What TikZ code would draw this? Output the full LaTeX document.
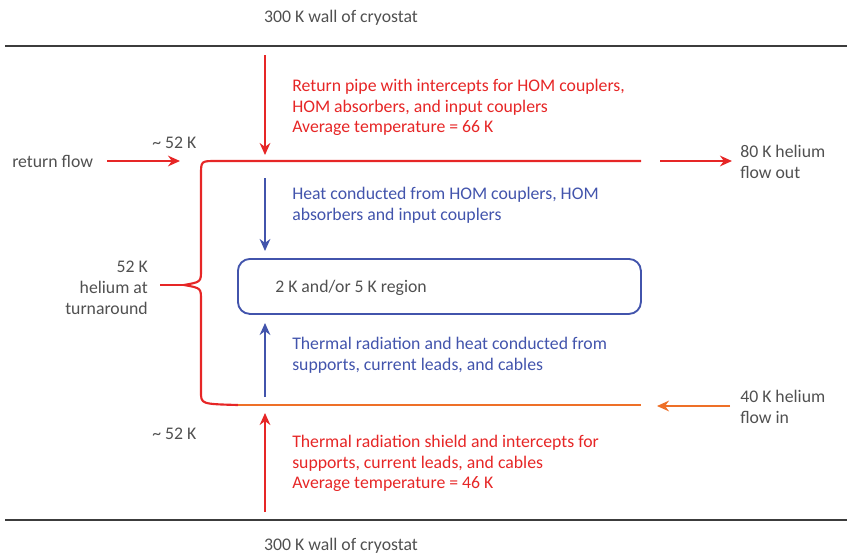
\documentclass[tikz,border=0pt]{standalone}
\usepackage{fontspec}
\setmainfont{Carlito}
\usetikzlibrary{arrows.meta}
\definecolor{cred}{RGB}{230,38,38}
\definecolor{cblue}{RGB}{66,84,172}
\definecolor{corange}{RGB}{238,112,40}
\definecolor{cgray}{RGB}{80,80,80}
\definecolor{cwall}{RGB}{60,60,60}
\begin{document}
\begin{tikzpicture}[x=0.75pt,y=-0.75pt,
  txt/.style={inner sep=0pt,font=\fontsize{13.3}{15.6}\selectfont,align=left},
  redarr/.style={draw=cred,line width=1.6pt,-{Stealth[length=9pt,width=8pt]}},
  bluearr/.style={draw=cblue,line width=1.4pt,-{Stealth[length=9pt,width=8pt]}},
  orangearr/.style={draw=corange,line width=1.6pt,-{Stealth[length=9pt,width=8pt]}},
  wall/.style={draw=cwall,line width=2.2pt}]
\useasboundingbox (0,0) rectangle (847,554);
% walls
\coordinate (wt1) at (5,46); \coordinate (wt2) at (847,46);
\coordinate (wb1) at (5,520); \coordinate (wb2) at (847,520);
\draw[wall] (wt1) -- (wt2);
\draw[wall] (wb1) -- (wb2);
\node[txt,text=cgray] (walltop) at (341,18) {300 K wall of cryostat};
\node[txt,text=cgray] (wallbot) at (341,546) {300 K wall of cryostat};
% top red arrow
\coordinate (ra1) at (265,55); \coordinate (ra2) at (265,155);
\draw[redarr] (ra1) -- (ra2);
\node[txt,text=cred,anchor=west] (rettext) at (292,107.5) {Return pipe with intercepts for HOM couplers,\\HOM absorbers, and input couplers\\Average temperature = 66 K};
% pipe and brace
\coordinate (ptopr) at (641,161);
\coordinate (pbotr) at (641,405);
\coordinate (tip) at (184,285);
\draw[cred,line width=1.6pt] (ptopr) -- (216,161) .. controls (201,161) .. (201,175) -- (201,270)
   .. controls (201,282) .. (tip) .. controls (201,288) .. (201,300) -- (201,392)
   .. controls (201,404) .. (238,405);
\draw[corange,line width=1.6pt] (238,405) -- (pbotr);
% brace line
\coordinate (tl) at (160,285);
\draw[cred,line width=1.6pt] (tl) -- (tip);
\node[txt,text=cgray,anchor=east,align=right] (turn) at (148,288) {52 K\\helium at\\turnaround};
% return flow
\node[txt,text=cgray,anchor=west] (retflow) at (12,161) {return flow};
\coordinate (rf1) at (107,161); \coordinate (rf2) at (180,161);
\draw[redarr] (rf1) -- (rf2);
\node[txt,text=cgray,anchor=west] (t52a) at (152,143) {\char`\~\ 52 K};
\node[txt,text=cgray,anchor=west] (t52b) at (152,434) {\char`\~\ 52 K};
% right arrows
\coordinate (out1) at (660,161); \coordinate (out2) at (732,161);
\draw[redarr] (out1) -- (out2);
\node[txt,text=cgray,anchor=west] (outtext) at (740,162) {80 K helium\\flow out};
\coordinate (in1) at (730,406); \coordinate (in2) at (657,406);
\draw[orangearr] (in1) -- (in2);
\node[txt,text=cgray,anchor=west] (intext) at (740,407) {40 K helium\\flow in};
% blue arrows
\coordinate (ba1) at (265,178); \coordinate (ba2) at (265,251);
\draw[bluearr] (ba1) -- (ba2);
\node[txt,text=cblue,anchor=west] (heattext) at (292,205.5) {Heat conducted from HOM couplers, HOM\\absorbers and input couplers};
\node[draw=cblue,line width=1.4pt,rounded corners=9pt,minimum width=403*0.75pt,minimum height=55*0.75pt,anchor=north west] (box) at (237,258) {};
\node[txt,text=cgray,anchor=west] (boxtext) at (275,288) {2 K and/or 5 K region};
\coordinate (bb1) at (265,397); \coordinate (bb2) at (265,323);
\draw[bluearr] (bb1) -- (bb2);
\node[txt,text=cblue,anchor=west] (radtext) at (292,355.5) {Thermal radiation and heat conducted from\\supports, current leads, and cables};
% bottom red arrow
\coordinate (rb1) at (265,512); \coordinate (rb2) at (265,413);
\draw[redarr] (rb1) -- (rb2);
\node[txt,text=cred,anchor=west] (shieldtext) at (292,463.5) {Thermal radiation shield and intercepts for\\supports, current leads, and cables\\Average temperature = 46 K};
\end{tikzpicture}
\end{document}
